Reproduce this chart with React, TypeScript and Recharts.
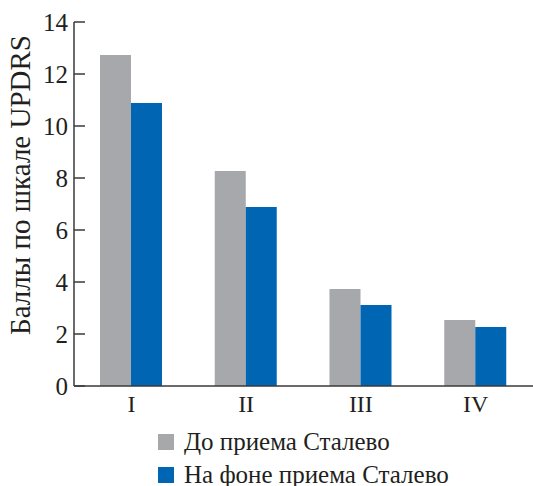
import React from "react";
import { BarChart, Bar, XAxis, YAxis } from "recharts";

const categories = ["I", "II", "III", "IV"];
const beforeValues = [12.73, 8.27, 3.73, 2.54];
const duringValues = [10.88, 6.88, 3.12, 2.27];
const yTicks = [0, 2, 4, 6, 8, 10, 12, 14];

const seriesNames = ["До приема Сталево", "На фоне приема Сталево"];
const COLORS = ["#A7A8AB", "#0066B3"];

const data = categories.map((c, i) => ({
  name: c,
  before: beforeValues[i],
  during: duringValues[i],
}));

const FONT = "Liberation Serif, Times New Roman, Tinos, DejaVu Serif";
const TEXT = "#231F20";
const AXIS = "#3a3a3a";

const YTick = (props: any) => {
  const { x, y, payload } = props;
  return (
    <g>
      <line x1={x + 6} x2={x + 17} y1={y} y2={y} stroke={AXIS} strokeWidth={1.5} />
      <text x={x} y={y} dy="0.35em" textAnchor="end" fontSize={25} style={{ fontFamily: FONT }} fill={TEXT}>
        {payload.value}
      </text>
    </g>
  );
};

const YLabel = () => (
  <text
    x={20}
    y={185}
    transform="rotate(-90, 20, 185)"
    textAnchor="middle"
    dominantBaseline="central"
    fontSize={29}
    style={{ fontFamily: FONT }}
    fill={TEXT}
  >
    Баллы по шкале UPDRS
  </text>
);

export default function App() {
  return (
    <div style={{ position: "absolute", left: 0, top: 0, width: 533, height: 486, background: "#fff", overflow: "hidden" }}>
      <BarChart
        width={533}
        height={486}
        data={data}
        margin={{ top: 22, right: 0, left: 0, bottom: 0 }}
        barGap={0}
        barCategoryGap={25}
      >
        <XAxis
          dataKey="name"
          tickLine={false}
          tickSize={0}
          tickMargin={9}
          height={100}
          axisLine={{ stroke: AXIS, strokeWidth: 1.5 }}
          tick={{ fontSize: 24, fill: TEXT, style: { fontFamily: FONT } }}
        />
        <YAxis
          width={74}
          domain={[0, 14]}
          ticks={yTicks}
          interval={0}
          tickLine={false}
          tickSize={0}
          tickMargin={6}
          axisLine={{ stroke: AXIS, strokeWidth: 1.5 }}
          tick={<YTick />}
          label={<YLabel />}
        />
        <Bar dataKey="before" name={seriesNames[0]} fill={COLORS[0]} barSize={31} isAnimationActive={false} />
        <Bar dataKey="during" name={seriesNames[1]} fill={COLORS[1]} barSize={31} isAnimationActive={false} />
      </BarChart>
      <div
        style={{
          position: "absolute",
          left: 158,
          top: 426,
          fontFamily: FONT,
          fontSize: 25,
          color: TEXT,
          whiteSpace: "nowrap",
        }}
      >
        {seriesNames.map((n, i) => (
          <div key={n} style={{ display: "flex", alignItems: "center", height: 32.5 }}>
            <span
              style={{
                display: "inline-block",
                width: 16,
                height: 16,
                background: COLORS[i],
                marginRight: 10,
                flexShrink: 0,
              }}
            />
            <span>{n}</span>
          </div>
        ))}
      </div>
    </div>
  );
}
